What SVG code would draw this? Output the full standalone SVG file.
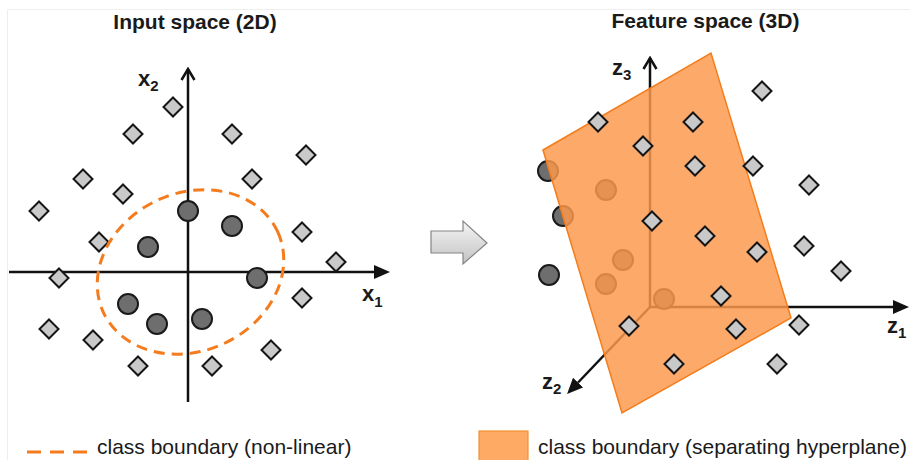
<svg xmlns="http://www.w3.org/2000/svg" xmlns:xlink="http://www.w3.org/1999/xlink" width="910" height="460" viewBox="0 0 910 460">
  <style>
    .title { font-family: "Liberation Sans", Arial, sans-serif; font-size: 21px; font-weight: bold; fill: #1a1a1a; }
    .axlabel { font-family: "Liberation Sans", Arial, sans-serif; font-size: 22px; font-weight: bold; fill: #1a1a1a; }
    .sub { font-size: 15px; }
    .legend { font-family: "Liberation Sans", Arial, sans-serif; font-size: 21px; fill: #1a1a1a; }
    .axis { stroke: #111; stroke-width: 2.5; fill: none; }
    .boundary { fill: none; stroke: #f47c1e; stroke-width: 3; stroke-dasharray: 11 7; }
    .plane { fill: #fd994d; fill-opacity: 0.84; stroke: #f37d1c; stroke-width: 1.5; }
  </style>
  <defs>
    <!-- sample markers -->
    <path id="diamond" d="M0,-9.5 L9.5,0 L0,9.5 L-9.5,0 Z" fill="#c9c9c9" stroke="#151515" stroke-width="2" stroke-linejoin="miter"/>
    <circle id="dot" r="10" fill="#6e6e6e" stroke="#1a1a1a" stroke-width="2"/>
    <!-- axis arrowheads -->
    <marker id="tri" viewBox="0 -8 17 16" refX="0" refY="0" markerWidth="17" markerHeight="16" markerUnits="userSpaceOnUse" orient="auto">
      <path d="M0,-7 L16,0 L0,7 Z" fill="#111"/>
    </marker>
    <marker id="chev" viewBox="-14 -9 16 18" refX="0" refY="0" markerWidth="16" markerHeight="18" markerUnits="userSpaceOnUse" orient="auto">
      <path d="M-11,-6.5 L0,0 L-11,6.5" fill="none" stroke="#111" stroke-width="2.5"/>
    </marker>
    <linearGradient id="arrowFill" x1="0" y1="0" x2="0" y2="1">
      <stop offset="0" stop-color="#f6f6f6"/>
      <stop offset="1" stop-color="#c2c2c2"/>
    </linearGradient>
  </defs>

  <rect width="910" height="460" fill="#ffffff"/>
  <!-- light frame edges -->
  <path d="M7.5,460 V9.5 H910" fill="none" stroke="#eeeeee" stroke-width="1"/>

  <!-- ===== Input space (2D) ===== -->
  <g id="input-space">
    <text class="title" x="195" y="29" text-anchor="middle">Input space (2D)</text>

    <g id="input-axes">
      <line class="axis" x1="9" y1="272" x2="374" y2="272" marker-end="url(#tri)"/>
      <line class="axis" x1="188" y1="402" x2="188" y2="69" marker-end="url(#chev)"/>
      <text class="axlabel" x="138" y="86">x<tspan class="sub" dy="5">2</tspan></text>
      <text class="axlabel" x="362" y="301">x<tspan class="sub" dy="6">1</tspan></text>
    </g>

    <g id="input-inner-class">
      <use xlink:href="#dot" x="188" y="211"/>
      <use xlink:href="#dot" x="148" y="247"/>
      <use xlink:href="#dot" x="232" y="226"/>
      <use xlink:href="#dot" x="257" y="278"/>
      <use xlink:href="#dot" x="128" y="304"/>
      <use xlink:href="#dot" x="157" y="324"/>
      <use xlink:href="#dot" x="202" y="319"/>
    </g>

    <g id="input-outer-class">
      <use xlink:href="#diamond" x="173" y="107"/>
      <use xlink:href="#diamond" x="133" y="134"/>
      <use xlink:href="#diamond" x="232" y="134"/>
      <use xlink:href="#diamond" x="306" y="155"/>
      <use xlink:href="#diamond" x="83" y="179"/>
      <use xlink:href="#diamond" x="123" y="194"/>
      <use xlink:href="#diamond" x="252" y="179"/>
      <use xlink:href="#diamond" x="39" y="211"/>
      <use xlink:href="#diamond" x="99" y="242"/>
      <use xlink:href="#diamond" x="302" y="232"/>
      <use xlink:href="#diamond" x="336" y="262"/>
      <use xlink:href="#diamond" x="59" y="278"/>
      <use xlink:href="#diamond" x="302" y="298"/>
      <use xlink:href="#diamond" x="49" y="329"/>
      <use xlink:href="#diamond" x="93" y="340"/>
      <use xlink:href="#diamond" x="138" y="366"/>
      <use xlink:href="#diamond" x="212" y="366"/>
      <use xlink:href="#diamond" x="271" y="350"/>
    </g>

    <!-- non-linear decision boundary -->
    <ellipse id="input-boundary" class="boundary" cx="190.5" cy="272" rx="96" ry="79" transform="rotate(-24.8 190.5 272)"/>
  </g>

  <!-- mapping arrow -->
  <g id="mapping-arrow">
    <path d="M431,231 H463 V221 L487,243 L463,264 V253 H431 Z" fill="url(#arrowFill)" stroke="#858585" stroke-width="1.2" stroke-linejoin="miter"/>
  </g>

  <!-- ===== Feature space (3D) ===== -->
  <g id="feature-space">
    <text class="title" x="705.5" y="28" text-anchor="middle">Feature space (3D)</text>

    <g id="feature-axes">
      <line class="axis" x1="650" y1="307" x2="650" y2="58" marker-end="url(#chev)"/>
      <line class="axis" x1="650" y1="307" x2="893" y2="307" marker-end="url(#tri)"/>
      <line class="axis" x1="650" y1="307" x2="578.1" y2="382.5" marker-end="url(#tri)"/>
      <text class="axlabel" x="612" y="75">z<tspan class="sub" dy="5">3</tspan></text>
      <text class="axlabel" x="887" y="333">z<tspan class="sub" dy="5">1</tspan></text>
      <text class="axlabel" x="542" y="389">z<tspan class="sub" dy="5">2</tspan></text>
    </g>

    <g id="feature-inner-class">
      <use xlink:href="#dot" x="548" y="171"/>
      <use xlink:href="#dot" x="563" y="216"/>
      <use xlink:href="#dot" x="549" y="275"/>
      <use xlink:href="#dot" x="606" y="190"/>
      <use xlink:href="#dot" x="623" y="260"/>
      <use xlink:href="#dot" x="606" y="284"/>
      <use xlink:href="#dot" x="664" y="299"/>
    </g>

    <!-- separating hyperplane -->
    <polygon id="hyperplane" class="plane" points="543,150 711,53 791,318 622,413"/>

    <g id="feature-outer-class">
      <use xlink:href="#diamond" x="598" y="122"/>
      <use xlink:href="#diamond" x="693" y="122"/>
      <use xlink:href="#diamond" x="762" y="91"/>
      <use xlink:href="#diamond" x="643" y="146"/>
      <use xlink:href="#diamond" x="695" y="166"/>
      <use xlink:href="#diamond" x="753" y="166"/>
      <use xlink:href="#diamond" x="809" y="185"/>
      <use xlink:href="#diamond" x="652" y="221"/>
      <use xlink:href="#diamond" x="705" y="236"/>
      <use xlink:href="#diamond" x="804" y="246"/>
      <use xlink:href="#diamond" x="757" y="252"/>
      <use xlink:href="#diamond" x="841" y="271"/>
      <use xlink:href="#diamond" x="721" y="296"/>
      <use xlink:href="#diamond" x="629" y="326"/>
      <use xlink:href="#diamond" x="736" y="329"/>
      <use xlink:href="#diamond" x="799" y="325"/>
      <use xlink:href="#diamond" x="674" y="364"/>
      <use xlink:href="#diamond" x="777" y="364"/>
    </g>
  </g>

  <!-- ===== Legend ===== -->
  <g id="legend-nonlinear">
    <line x1="27" y1="452" x2="87" y2="452" stroke="#f47c1e" stroke-width="3" stroke-dasharray="14 9"/>
    <text class="legend" x="97" y="454">class boundary (non-linear)</text>
  </g>
  <g id="legend-hyperplane">
    <rect x="479" y="431" width="49" height="32" fill="#fea964" stroke="#f39035" stroke-width="1.2"/>
    <text class="legend" x="538" y="454">class boundary (separating hyperplane)</text>
  </g>
</svg>
